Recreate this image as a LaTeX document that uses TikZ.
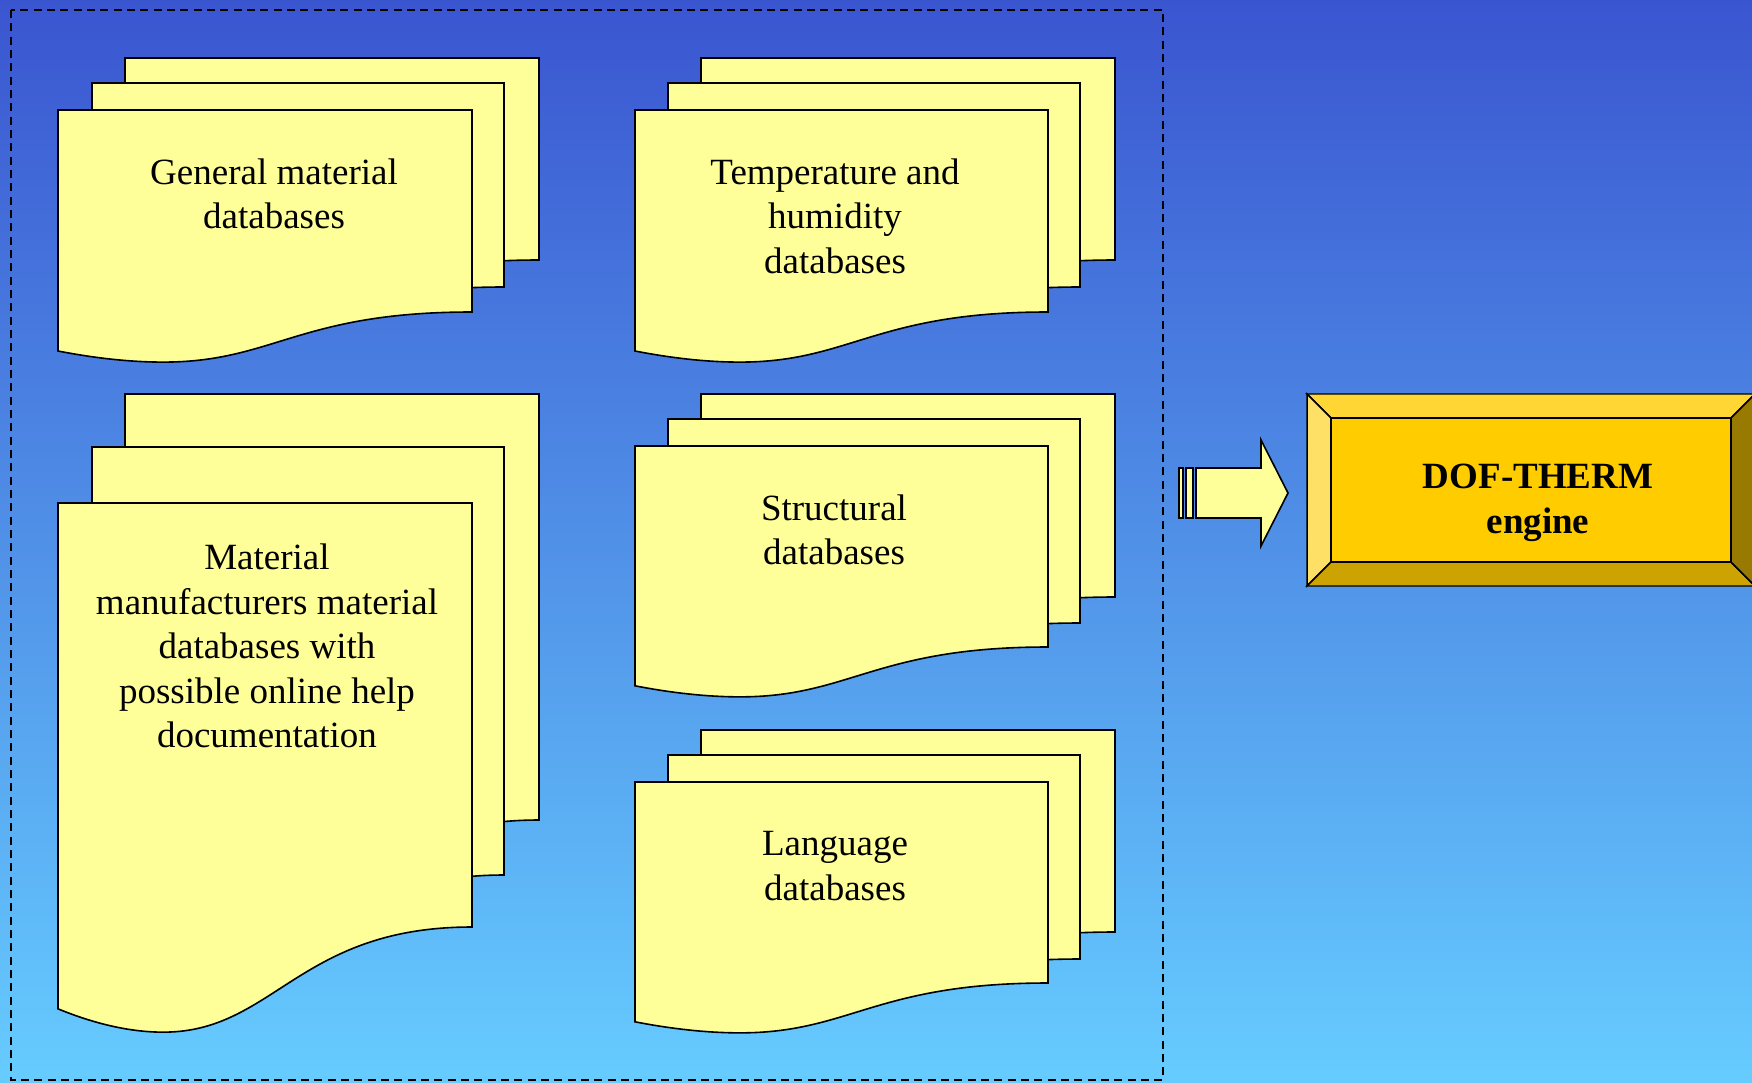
\documentclass[tikz,border=0pt]{standalone}
\usepackage{fontspec}
\setmainfont{Liberation Serif}
\usetikzlibrary{positioning}

\definecolor{bgtop}{RGB}{58,85,208}
\definecolor{bgbot}{RGB}{102,204,255}
\definecolor{sheetyellow}{RGB}{255,255,153}
\definecolor{enginegold}{RGB}{255,204,0}
\definecolor{beveltop}{RGB}{255,214,51}
\definecolor{bevelleft}{RGB}{255,224,102}
\definecolor{bevelbot}{RGB}{204,163,0}
\definecolor{bevelright}{RGB}{153,122,0}

\tikzset{every picture/.style={line width=0.75pt}}
\tikzset{
  sheet/.style={draw=black, fill=sheetyellow, line width=1.2pt, line join=miter},
  dbtext/.style={align=center, font=\fontsize{27.75}{33.4}\selectfont},
  bevel/.style={draw=black, line width=1.1pt, line join=miter},
}

% one sheet of a database stack: left, top, right, bottom (at the right edge)
\newcommand{\dbsheet}[4]{%
  \pgfmathsetmacro\shw{#3-#1}\pgfmathsetmacro\shh{#4-#2}%
  \draw [sheet] (#1,#2) -- (#3,#2) -- (#3,#4)
    .. controls ({#1+0.58*\shw},#4) and ({#1+0.522*\shw},{#4+0.248*\shh}) .. ({#1+0.254*\shw},{#4+0.248*\shh})
    .. controls ({#1+0.154*\shw},{#4+0.248*\shh}) and ({#1+0.06*\shw},{#4+0.217*\shh}) .. (#1,{#4+0.193*\shh}) -- cycle ;}

\begin{document}
\begin{tikzpicture}[x=0.75pt,y=0.75pt,yscale=-1,xscale=1]
%background
\useasboundingbox (0,0) rectangle (1752,1082);
\shade [top color=bgtop, bottom color=bgbot] (0,0) rectangle (1752,1082);

%Dashed frame
\draw [dash pattern=on 6pt off 4pt, line width=1.5pt] (11,10) rectangle (1163,1080);

%Shape: General material databases
\dbsheet{125}{58}{539}{260}
\dbsheet{92}{83}{504}{287}
\dbsheet{58}{110}{472}{312}

%Shape: Temperature and humidity databases
\dbsheet{701}{58}{1115}{260}
\dbsheet{668}{83}{1080}{287}
\dbsheet{635}{110}{1048}{312}

%Shape: Material manufacturers databases
\dbsheet{125}{394}{539}{820}
\dbsheet{92}{447}{504}{875}
\dbsheet{58}{503}{472}{927}

%Shape: Structural databases
\dbsheet{701}{394}{1115}{597}
\dbsheet{668}{419}{1080}{623}
\dbsheet{635}{446}{1048}{647}

%Shape: Language databases
\dbsheet{701}{730}{1115}{932}
\dbsheet{668}{755}{1080}{959}
\dbsheet{635}{782}{1048}{983}

%Shape: Striped Right Arrow
\draw [sheet] (1179,468) rectangle (1183,518) ;
\draw [sheet] (1186,468) rectangle (1193,518) ;
\draw [sheet] (1196,468) -- (1261,468) -- (1261,440) -- (1288,493) -- (1261,546) -- (1261,518) -- (1196,518) -- cycle ;

%Shape: Bevel
\draw [bevel, fill=beveltop] (1307,394) -- (1755,394) -- (1731,418) -- (1331,418) -- cycle ;
\draw [bevel, fill=bevelleft] (1307,394) -- (1331,418) -- (1331,562) -- (1307,586) -- cycle ;
\draw [bevel, fill=bevelbot] (1307,586) -- (1331,562) -- (1731,562) -- (1755,586) -- cycle ;
\draw [bevel, fill=bevelright] (1755,394) -- (1731,418) -- (1731,562) -- (1755,586) -- cycle ;
\draw [bevel, fill=enginegold] (1331,418) rectangle (1731,562) ;

% Text Node
\node [dbtext] (gen) at (274,194) {General material\\databases};
% Text Node
\node [dbtext] (temp) at (835,216) {Temperature and\\humidity\\databases};
% Text Node
\node [dbtext] (manu) at (267,646) {Material\\manufacturers material\\databases with\\possible online help\\documentation};
% Text Node
\node [dbtext] (struct) at (834,530) {Structural\\databases};
% Text Node
\node [dbtext] (lang) at (835,866) {Language\\databases};
% Text Node
\node [dbtext, font=\fontsize{27.75}{33.4}\selectfont\bfseries] (engine) at (1538,503) {DOF-THERM\\engine};

\end{tikzpicture}
\end{document}
